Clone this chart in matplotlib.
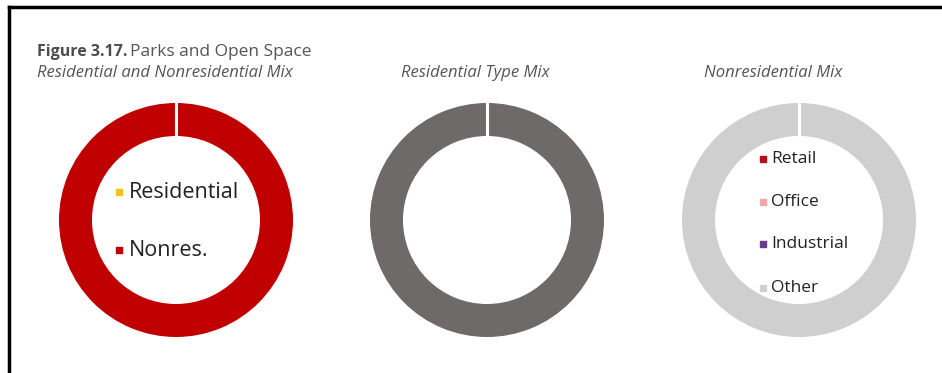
import matplotlib.pyplot as plt
import numpy as np

# chart data
mix_labels = ['Residential', 'Nonres.']
mix_values = [0, 100]
mix_colors = ['#F2C318', '#C00000']

res_type_labels = ['Residential']
res_type_values = [100]
res_type_colors = ['#6E6A69']

nonres_labels = ['Retail', 'Office', 'Industrial', 'Other']
nonres_values = [0, 0, 0, 100]
nonres_colors = ['#B3121B', '#F2A7A9', '#6B3A8F', '#CFCFCF']

W, H = 942, 373
fig = plt.figure(figsize=(W / 100, H / 100), dpi=100)
plt.rcParams['font.family'] = ['Open Sans', 'DejaVu Sans']

# frame lines (top and left only)
fig.add_artist(plt.Line2D([8.5 / W, 1], [1 - 7 / H, 1 - 7 / H], color='black', lw=2.5))
fig.add_artist(plt.Line2D([8.5 / W, 8.5 / W], [0, 1 - 7 / H], color='black', lw=2.5))

# titles
fig.text(37 / W, 1 - 52 / H, 'Figure 3.17.', fontsize=11.5, fontweight='bold', color='#4d4d4d', va='center')
fig.text(130 / W, 1 - 52 / H, 'Parks and Open Space', fontsize=12.5, color='#555555', va='center')
fig.text(37 / W, 1 - 73 / H, 'Residential and Nonresidential Mix', fontsize=12, style='italic', color='#555555', va='center')
fig.text(401 / W, 1 - 73 / H, 'Residential Type Mix', fontsize=12, style='italic', color='#555555', va='center')
fig.text(704 / W, 1 - 73 / H, 'Nonresidential Mix', fontsize=12, style='italic', color='#555555', va='center')

R = 117
ring = 33 / R


def donut(cx, cy, values, colors):
    ax = fig.add_axes([(cx - R) / W, 1 - (cy + R) / H, 2 * R / W, 2 * R / H])
    ax.pie(values, colors=colors, radius=1, startangle=90, counterclock=False,
           wedgeprops=dict(width=ring, edgecolor='none'))
    # white separator at 12 o'clock
    ax.plot([0, 0], [1 - ring - 0.02, 1.02], color='white', lw=2.2, solid_capstyle='butt')
    ax.set_xlim(-1, 1)
    ax.set_ylim(-1, 1)
    ax.set_aspect('equal')
    ax.axis('off')
    return ax


ax1 = donut(176, 220, mix_values, mix_colors)
ax2 = donut(487, 220, res_type_values, res_type_colors)
ax3 = donut(799, 220, nonres_values, nonres_colors)

# legend inside first donut
for lab, col, py in zip(mix_labels, mix_colors, [192, 250]):
    yy = (220 - py) / R
    ax1.scatter([(119 - 176) / R], [yy], marker='s', s=24, color=col)
    ax1.text((129 - 176) / R, yy, lab, fontsize=15.5, color='#222222', va='center', ha='left')

# legend inside third donut
for lab, col, py in zip(nonres_labels, nonres_colors, [159, 202, 244, 288]):
    yy = (220 - py) / R
    ax3.scatter([(763 - 799) / R], [yy], marker='s', s=14, color=col)
    ax3.text((771 - 799) / R, yy, lab, fontsize=12.5, color='#222222', va='center', ha='left')

fig.savefig('out.png', dpi=100)
